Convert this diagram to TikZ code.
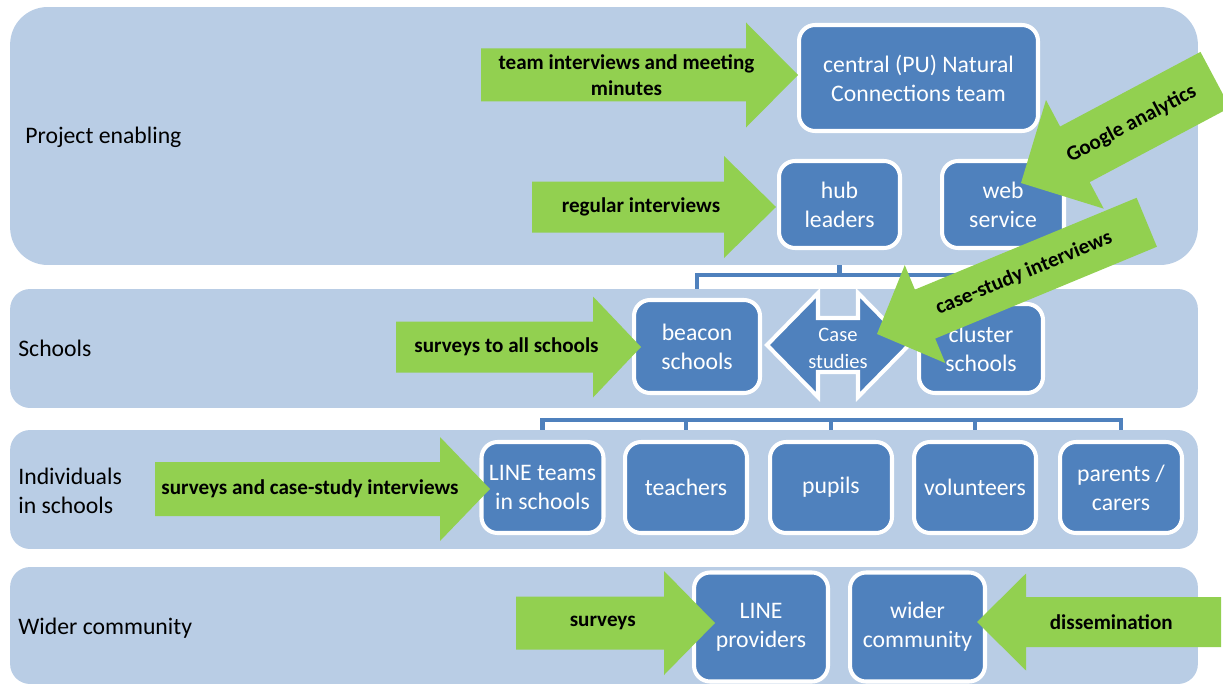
\documentclass[tikz,border=0pt]{standalone}
\usepackage{fontspec}
\setmainfont{Carlito}
\usetikzlibrary{positioning, backgrounds}
\definecolor{BandBlue}{HTML}{B9CDE5}
\definecolor{BoxBlue}{HTML}{4F81BD}
\definecolor{ArrowGreen}{HTML}{92D050}
\tikzset{
    % Row backgrounds
    band/.style={
        rectangle,
        fill=BandBlue,
        inner sep=0pt,
        minimum width=23.76cm
    },
    rowtitle/.style={
        anchor=west,
        inner sep=0pt,
        align=left,
        font=\fontsize{13.5}{16.5}\selectfont
    },
    % Blue boxes with white rim
    unit/.style={
        rectangle,
        rounded corners=0.32cm,
        fill=BoxBlue,
        draw=white,
        line width=2.3pt,
        text=white,
        align=center,
        inner sep=1pt,
        font=\fontsize{13.5}{16.5}\selectfont
    },
    % Org-chart lines
    link/.style={
        draw=BoxBlue,
        line width=2.3pt
    },
    evidence/.style={
        align=center,
        inner sep=0pt,
        font=\bfseries\fontsize{12}{14.5}\selectfont
    }
}
% name, tip, direction, length, shaft width, head width, head length, text angle, text
\newcommand{\greenarrow}[9]{%
    \begin{scope}[shift={#2}, rotate=#3]
        \fill[ArrowGreen] (0,0) -- (-#7,#6/2) -- (-#7,#5/2) -- (-#4,#5/2)
            -- (-#4,-#5/2) -- (-#7,-#5/2) -- (-#7,-#6/2) -- cycle;
        \node[evidence, rotate=#8] (#1) at ({-(#4/2+#7/4)},0) {#9};
    \end{scope}}

\begin{document}
\begin{tikzpicture}[x=0.02cm, y=0.02cm]
    \useasboundingbox (0,0) rectangle (1223,684);
    \clip (0,0) rectangle (1223,684);

    % Project enabling
    \node[unit, minimum width=4.78cm, minimum height=2.12cm] (central) at (918.5,606) {central (PU) Natural\\Connections team};
    \node[unit, minimum width=2.42cm, minimum height=1.74cm] (hub) at (839.5,479.5) {hub\\leaders};
    \node[unit, minimum width=2.44cm, minimum height=1.74cm] (web) at (1003,479.5) {web\\service};

    % Schools
    \node[unit, minimum width=2.52cm, minimum height=1.86cm] (beacon) at (697,337.5) {beacon\\schools};
    \node[unit, minimum width=2.48cm, minimum height=1.78cm] (cluster) at (981,335.5) {cluster\\schools};
    \draw[fill=BoxBlue, draw=white, line width=2.3pt] (767,339) -- (818,391) -- (818,366) -- (858,366)
        -- (858,391) -- (909,339) -- (858,287) -- (858,312) -- (818,312) -- (818,287) -- cycle;
    \node[font=\fontsize{11.7}{15}\selectfont, text=white, align=center, inner sep=0pt] (cases) at (838,335.5) {Case\\studies};

    % Individuals in schools
    \node[unit, minimum width=2.44cm, minimum height=1.82cm] (lineteams) at (542.5,196.5) {LINE teams\\in schools};
    \node[unit, minimum width=2.44cm, minimum height=1.82cm] (teachers) at (686,196.5) {teachers};
    \node[unit, minimum width=2.44cm, minimum height=1.82cm] (pupils) at (831,196.5) {pupils};
    \node[unit, minimum width=2.44cm, minimum height=1.82cm] (volunteers) at (975,196.5) {volunteers};
    \node[unit, minimum width=2.44cm, minimum height=1.82cm] (parents) at (1121,196.5) {parents /\\carers};

    % Wider community
    \node[unit, minimum width=2.68cm, minimum height=2.18cm] (providers) at (761,57) {LINE\\providers};
    \node[unit, minimum width=2.70cm, minimum height=2.18cm] (community) at (917.5,57) {wider\\community};

    % Row titles
    \node[rowtitle] (tProject) at (25,547) {Project enabling};
    \node[rowtitle] (tSchools) at (18,336) {Schools};
    \node[rowtitle] (tIndiv) at (18,193) {Individuals\\in schools};
    \node[rowtitle] (tWider) at (18,56) {Wider community};

    % Lines and bands behind the boxes
    \begin{scope}[on background layer]
        \coordinate (busTop) at (0,409);
        \coordinate (busLow) at (0,264);
        \draw[link] (hub.south) -- (hub.south |- busTop);
        \draw[link] (beacon.north) -- (beacon.north |- busTop) -- (cluster.north |- busTop) -- (cluster.north);
        \draw[link] (lineteams.north) -- (lineteams.north |- busLow) -- (parents.north |- busLow) -- (parents.north);
        \foreach \n in {teachers, pupils, volunteers}
            \draw[link] (\n.north) -- (\n.north |- busLow);

        \node[band, minimum height=5.16cm, rounded corners=0.75cm] (bandProject) at (604,548) {};
        \node[band, minimum height=2.38cm, rounded corners=0.4cm] (bandSchools) at (604,335.5) {};
        \node[band, minimum height=2.38cm, rounded corners=0.4cm] (bandIndiv) at (604,194.5) {};
        \node[band, minimum height=2.34cm, rounded corners=0.4cm] (bandWider) at (604,58.5) {};
    \end{scope}

    % Evidence arrows
    \greenarrow{gTeam}{(798,609)}{0}{317}{53}{105}{52}{0}{team interviews and meeting\\minutes}
    \greenarrow{gRegular}{(776,477)}{0}{244}{51}{102}{52}{0}{regular interviews}
    \greenarrow{gSurveysAll}{(641,337)}{0}{245}{51}{101}{48}{0}{surveys to all schools}
    \greenarrow{gIndiv}{(490,195)}{0}{335}{54}{104}{50}{0}{surveys and case-study interviews}
    \greenarrow{gSurveys}{(715,61)}{0}{199}{53}{104}{51}{0}{surveys}
    \greenarrow{gDissem}{(977,62)}{180}{244}{50}{97}{49}{0}{dissemination}
    \greenarrow{gGoogle}{(1021,501)}{208}{220}{63}{123}{61}{28}{Google analytics}
    \greenarrow{gCase}{(877,350)}{202.5}{292}{53}{106}{52}{22.5}{case-study interviews}
\end{tikzpicture}
\end{document}
